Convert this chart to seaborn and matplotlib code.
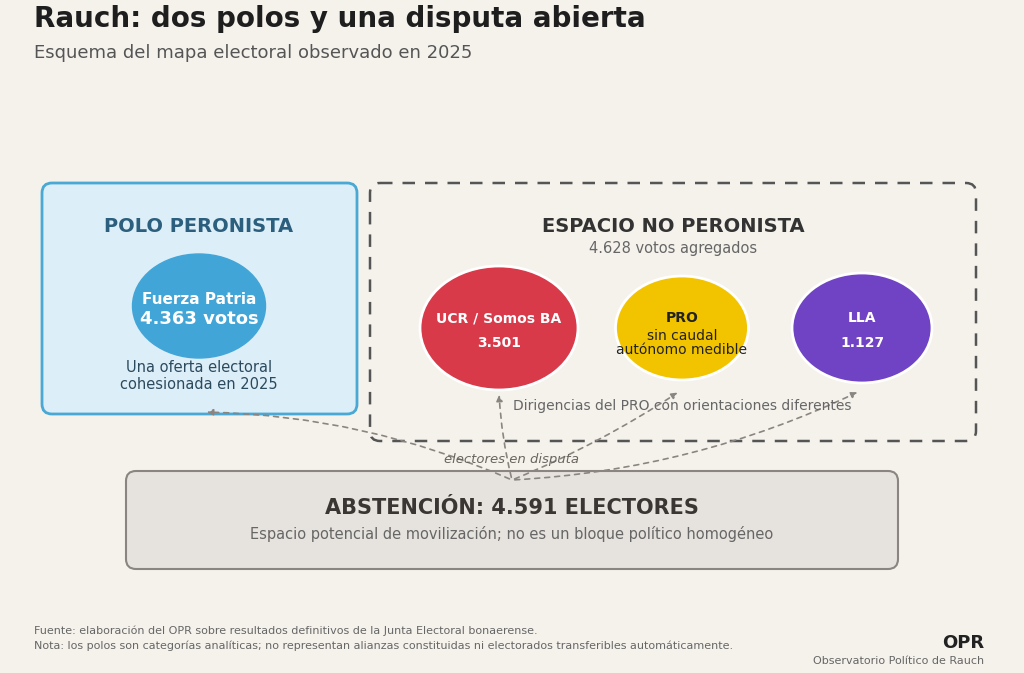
import matplotlib
matplotlib.use("Agg")
import matplotlib.pyplot as plt
import seaborn as sns
from matplotlib.patches import FancyBboxPatch, Ellipse, FancyArrowPatch

sns.set_theme(style="white")
plt.rcParams['font.family'] = ['DejaVu Sans']

title = "Rauch: dos polos y una disputa abierta"
subtitle = "Esquema del mapa electoral observado en 2025"
fuerzas = ["UCR / Somos BA", "PRO", "LLA"]
votos = ["3.501", None, "1.127"]
colores = ["#d93a4a", "#f2c400", "#7043c4"]
fp_votos = "4.363 votos"
no_pj_total = "4.628 votos agregados"
abstencion = "ABSTENCIÓN: 4.591 ELECTORES"

bg = "#f5f2ec"
fig = plt.figure(figsize=(10.24, 6.73), dpi=100, facecolor=bg)
ax = fig.add_axes([0, 0, 1, 1])
ax.set_xlim(0, 1024); ax.set_ylim(673, 0); ax.axis("off"); ax.set_facecolor(bg)

ax.text(34, 19, title, fontsize=20, fontweight="bold", color="#1e1e1e", va="center")
ax.text(34, 53, subtitle, fontsize=13, color="#555555", va="center")

# Peronist box
ax.add_patch(FancyBboxPatch((42, 183), 315, 231, boxstyle="round,pad=0,rounding_size=10",
                            fc="#dceef7", ec="#4aa8d4", lw=2))
ax.text(199, 227, "POLO PERONISTA", fontsize=14, fontweight="bold", color="#2c5f7e", ha="center", va="center")
ax.add_patch(Ellipse((199, 306), 133, 104, fc="#42a5d8", ec="#42a5d8"))
ax.text(199, 299, "Fuerza Patria", fontsize=11, fontweight="bold", color="white", ha="center", va="center")
ax.text(199, 319, fp_votos, fontsize=13, fontweight="bold", color="white", ha="center", va="center")
ax.text(199, 376, "Una oferta electoral\ncohesionada en 2025", fontsize=10.5, color="#2c4a5e",
        ha="center", va="center", linespacing=1.2)

# Non-peronist box
ax.add_patch(FancyBboxPatch((370, 183), 606, 258, boxstyle="round,pad=0,rounding_size=10",
                            fc="none", ec="#555555", lw=1.8, ls=(0, (5, 4))))
ax.text(673, 227, "ESPACIO NO PERONISTA", fontsize=14, fontweight="bold", color="#333333", ha="center", va="center")
ax.text(673, 248, no_pj_total, fontsize=10.5, color="#666666", ha="center", va="center")

centers = [(499, 328, 158, 124), (682, 328, 133, 104), (862, 328, 140, 110)]
for (cx, cy, w, h), name, v, c in zip(centers, fuerzas, votos, colores):
    ax.add_patch(Ellipse((cx, cy), w, h, fc=c, ec="white", lw=2))
    if v:
        ax.text(cx, 318, name, fontsize=10, fontweight="bold", color="white", ha="center", va="center")
        ax.text(cx, 343, v, fontsize=10, fontweight="bold", color="white", ha="center", va="center")
    else:
        ax.text(cx, 318, name, fontsize=10, fontweight="bold", color="#222222", ha="center", va="center")
        ax.text(cx, 343, "sin caudal\nautónomo medible", fontsize=10, color="#222222",
                ha="center", va="center", linespacing=1.0)
ax.text(682, 406, "Dirigencias del PRO con orientaciones diferentes", fontsize=10, color="#666666",
        ha="center", va="center")

# Abstention box
ax.add_patch(FancyBboxPatch((126, 471), 772, 98, boxstyle="round,pad=0,rounding_size=10",
                            fc="#e6e2dd", ec="#8a8580", lw=1.5))
ax.text(512, 508, abstencion, fontsize=15, fontweight="bold", color="#3a3633", ha="center", va="center")
ax.text(512, 534, "Espacio potencial de movilización; no es un bloque político homogéneo",
        fontsize=10.5, color="#666666", ha="center", va="center")

# Arrows
src = (512, 480)
for tgt, rad in [((204, 412), 0.1), ((499, 392), -0.05), ((680, 391), 0.05), ((860, 391), 0.1)]:
    ax.add_patch(FancyArrowPatch(src, tgt, connectionstyle=f"arc3,rad={rad}", arrowstyle="-|>",
                                 mutation_scale=9, color="#8a8580", lw=1.2, ls=(0, (3, 3))))
ax.text(512, 459, "electores en disputa", fontsize=9.5, style="italic", color="#6a6560", ha="center", va="center")

# Footer
ax.text(34, 631, "Fuente: elaboración del OPR sobre resultados definitivos de la Junta Electoral bonaerense.",
        fontsize=8, color="#666666", va="center")
ax.text(34, 646, "Nota: los polos son categorías analíticas; no representan alianzas constituidas ni electorados transferibles automáticamente.",
        fontsize=8, color="#666666", va="center")
ax.text(984, 643, "OPR", fontsize=13, fontweight="bold", color="#222222", ha="right", va="center")
ax.text(984, 661, "Observatorio Político de Rauch", fontsize=8, color="#666666", ha="right", va="center")

fig.savefig("out.png", dpi=100, facecolor=bg)
